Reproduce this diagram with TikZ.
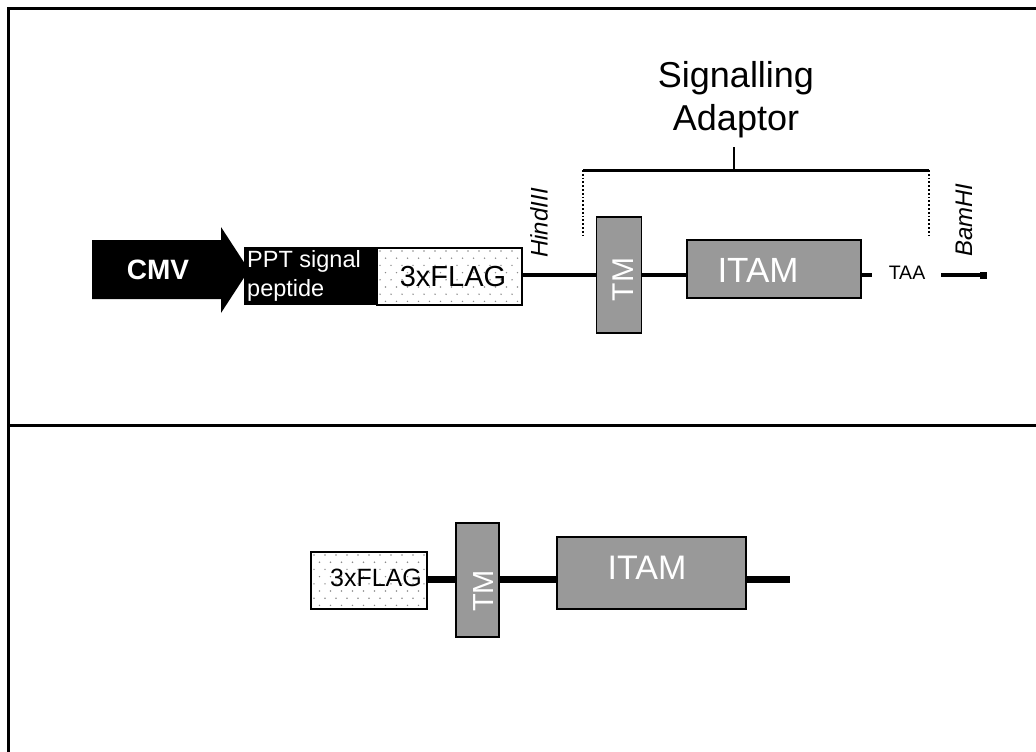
\documentclass[tikz,border=0pt]{standalone}
\usepackage{fontspec}
\setmainfont{Liberation Sans}
\definecolor{domgray}{HTML}{999999}
\definecolor{dotgray}{HTML}{8C8C8C}
\tikzset{
  frameline/.style={line width=3pt},
  dna/.style={line width=4pt},
  dnathick/.style={line width=7pt},
  protbox/.style={draw=black, line width=1.4pt, fill=domgray, inner sep=0pt},
  domtext/.style={text=white, inner sep=0pt},
  sitelabel/.style={font=\fontsize{24}{28}\selectfont\itshape, rotate=90, inner sep=0pt},
  dotfill/.style={path picture={
      \foreach \r in {0,...,9}{
        \foreach \c in {0,...,15}{
          \pgfmathsetmacro\xo{3+\c*11+mod(\r,2)*5.5}
          \pgfmathsetmacro\yo{-3-\r*7.2}
          \fill[dotgray] ([xshift=\xo pt, yshift=\yo pt]path picture bounding box.north west) circle (0.8pt);
        }}
    }},
  tagbox/.style={draw=black, line width=1.4pt, fill=white, inner sep=0pt, dotfill},
}
\begin{document}
\begin{tikzpicture}[x=1pt, y=-1pt]
\useasboundingbox (0,0) rectangle (1036,752);

% panel frame and divider
\draw[frameline] (8.5,752) -- (8.5,9) -- (1036,9);
\draw[frameline] (8.5,425) -- (1036,425);

% ---------------- expression construct ----------------
% promoter arrow
\fill[black] (92,240) -- (221,240) -- (221,227) -- (249,270) -- (221,313) -- (221,299) -- (92,299) -- cycle;
\node[text=white, font=\fontsize{28}{32}\selectfont\bfseries] (cmv) at (158,270) {CMV};

% signal peptide
\node[draw=black, fill=black, minimum width=134pt, minimum height=57pt, inner sep=0pt] (ppt) at (311,275.5) {};
\node[anchor=north west, align=left, text=white, inner sep=0pt,
      font=\fontsize{23.5}{29}\selectfont] (ppttext) at (247,250) {PPT signal\\peptide};

% FLAG tag
\node[tagbox, minimum width=145pt, minimum height=57pt] (flag1) at (449.5,276.5) {};
\node[inner sep=0pt, font=\fontsize{29}{32}\selectfont] (flag1text) at (453,277) {3xFLAG};

% adaptor domains
\node[protbox, minimum width=45pt, minimum height=116pt] (tm1) at (619,275) {};
\node[domtext, rotate=90, font=\fontsize{30}{33}\selectfont] (tm1text) at (623.5,279.5) {TM};
\node[protbox, minimum width=174pt, minimum height=58pt] (itam1) at (774,269) {};
\node[domtext, font=\fontsize{35}{38}\selectfont] (itam1text) at (758,270.5) {ITAM};

% stop codon and 3' end
\node[inner sep=0pt, font=\fontsize{19.5}{22}\selectfont] (taa) at (907,273) {TAA};
\coordinate (itamend) at (872,274.5);
\coordinate (tailstart) at (941,275);
\coordinate (tailend) at (987,275);

% backbone segments
\draw[dna] (flag1.east |- 0,275) -- (tm1.west |- 0,275);
\draw[dna] (tm1.east |- 0,274.5) -- (itam1.west |- 0,274.5);
\draw[dna] (itam1.east |- 0,274.5) -- (itamend);
\draw[dna] (tailstart) -- (tailend);
\fill[black] (980,272) rectangle (987,278.5);

% restriction sites
\node[sitelabel] (hind) at (539,223) {HindIII};
\node[sitelabel] (bam) at (964,220) {BamHI};

% signalling adaptor bracket
\coordinate (brl) at (583,170);
\coordinate (brr) at (929,170);
\coordinate (brtop) at (734,147);
\draw[line width=3pt] (brl) -- (brr);
\draw[line width=2pt] (brtop) -- (brtop |- brl);
\draw[line width=1.8pt, dotted] (brl) -- (583,237);
\draw[line width=1.8pt, dotted] (brr) -- (929,237);
\node[anchor=south, align=center, inner sep=0pt,
      font=\fontsize{36}{43}\selectfont] (adaptor) at (736,138) {Signalling\\Adaptor};

% ---------------- expressed protein ----------------
\node[tagbox, minimum width=116pt, minimum height=57pt] (flag2) at (369,580.5) {};
\node[inner sep=0pt, font=\fontsize{25}{28}\selectfont] (flag2text) at (376,578) {3xFLAG};
\node[protbox, minimum width=43pt, minimum height=114pt] (tm2) at (477.5,580) {};
\node[domtext, rotate=90, font=\fontsize{29}{32}\selectfont] (tm2text) at (484,591) {TM};
\node[protbox, minimum width=189pt, minimum height=72pt] (itam2) at (651.5,573) {};
\node[domtext, font=\fontsize{34}{38}\selectfont] (itam2text) at (647,568) {ITAM};
\coordinate (cterm) at (790,579);

\draw[dnathick] (flag2.east |- 0,579) -- (tm2.west |- 0,579);
\draw[dnathick] (tm2.east |- 0,579) -- (itam2.west |- 0,579);
\draw[dnathick] (itam2.east |- 0,579) -- (cterm);
\end{tikzpicture}
\end{document}
